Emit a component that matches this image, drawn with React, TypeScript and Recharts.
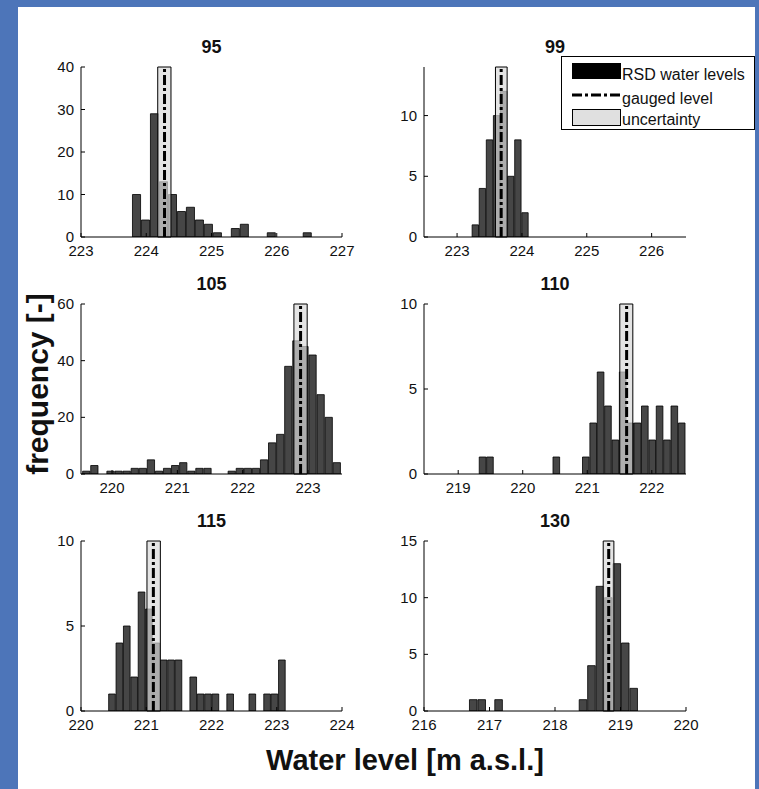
import React from 'react';
import { ComposedChart, Bar, XAxis, YAxis, ReferenceArea, ReferenceLine } from 'recharts';

const FONT = '"Liberation Sans", Arial, Helvetica, sans-serif';

// Panel titles (cross-section ids)
const panelTitles = ['95', '99', '105', '110', '115', '130'];

// Histogram counts (frequency) per panel, one value per bin
const counts95 = [10, 4, 29, 13, 10, 6, 7, 4, 3, 1, 0, 2, 3, 0, 0, 1, 0, 0, 0, 1];
const counts99 = [1, 4, 8, 10, 12, 5, 8, 2];
const counts105 = [1, 3, 0, 1, 1, 1, 2, 2, 5, 1, 2, 3, 4, 1, 2, 2, 0, 0, 1, 2, 2, 2, 5, 11, 14, 38, 47, 45, 42, 28, 20, 4];
const counts110 = [1, 1, 0, 0, 0, 0, 0, 0, 0, 0, 1, 0, 0, 0, 1, 3, 6, 4, 2, 6, 3, 3, 4, 2, 4, 2, 4, 3];
const counts115 = [1, 4, 5, 2, 7, 6, 4, 3, 3, 3, 0, 2, 1, 1, 1, 0, 1, 0, 0, 1, 0, 1, 1, 3];
const counts130 = [1, 1, 0, 1, 0, 0, 0, 0, 0, 0, 0, 0, 0, 1, 4, 11, 10, 13, 6, 2];
const allCounts = [counts95, counts99, counts105, counts110, counts115, counts130];

// Histogram bins: left edge of first bin and bin width [m a.s.l.]
const binStarts = [223.789, 223.232, 219.55, 219.326, 220.424, 216.694];
const binWidths = [0.1377, 0.1094, 0.1237, 0.1143, 0.1132, 0.1289];

// Gauged water level and its uncertainty band [m a.s.l.]
const gaugedLevels = [224.28, 223.68, 222.886, 221.61, 221.109, 218.82];
const bandLows = [224.176, 223.592, 222.784, 221.504, 221.011, 218.736];
const bandHighs = [224.379, 223.772, 222.987, 221.706, 221.216, 218.899];

// Axes
const xDomains: [number, number][] = [
  [223, 227], [222.49, 226.53], [219.525, 223.52], [218.47, 222.53], [220, 224], [216, 220],
];
const xTickValues = [
  [223, 224, 225, 226, 227],
  [223, 224, 225, 226],
  [220, 221, 222, 223],
  [219, 220, 221, 222],
  [220, 221, 222, 223, 224],
  [216, 217, 218, 219, 220],
];
const yMaxes = [40, 14, 60, 10, 10, 15];
const yTickValues = [
  [0, 10, 20, 30, 40],
  [0, 5, 10],
  [0, 20, 40, 60],
  [0, 5, 10],
  [0, 5, 10],
  [0, 5, 10, 15],
];

const legendLabels = ['RSD water levels', 'gauged level', 'uncertainty'];
const xAxisTitle = 'Water level [m a.s.l.]';
const yAxisTitle = 'frequency [-]';

// Layout (plot rectangles in page pixels)
const PLOTS = [
  { L: 81, T: 67, W: 261, H: 170 },
  { L: 424, T: 67, W: 262, H: 170 },
  { L: 81, T: 304, W: 261, H: 170 },
  { L: 424, T: 304, W: 262, H: 170 },
  { L: 81, T: 541, W: 261, H: 170 },
  { L: 424, T: 541, W: 262, H: 170 },
];

const BAR_FILL = '#464646';
const BAND_FILL = '#d8d8d8';
const DASHDOT = '10 3 3 3';
const TICK_FONT = 15;

const BottomTick = (p: any) => {
  const { x, y, payload } = p;
  return (
    <g>
      <line x1={x} y1={y} x2={x} y2={y - 4} stroke="#000" strokeWidth={1} />
      <text x={x} y={y + 19} textAnchor="middle" fontSize={TICK_FONT} fontFamily={FONT} fill="#111">
        {payload.value}
      </text>
    </g>
  );
};
const TopTick = (p: any) => {
  const { x, y } = p;
  return <line x1={x} y1={y} x2={x} y2={y + 4} stroke="#000" strokeWidth={1} />;
};
const LeftTick = (p: any) => {
  const { x, y, payload } = p;
  return (
    <g>
      <line x1={x} y1={y} x2={x + 4} y2={y} stroke="#000" strokeWidth={1} />
      <text x={x - 7} y={y + 5} textAnchor="end" fontSize={TICK_FONT} fontFamily={FONT} fill="#111">
        {payload.value}
      </text>
    </g>
  );
};
const RightTick = (p: any) => {
  const { x, y } = p;
  return <line x1={x} y1={y} x2={x - 4} y2={y} stroke="#000" strokeWidth={1} />;
};

const AXW = 40;
const AXH = 30;
const MT = 12;
const MR = 22;

function Panel({ idx }: { idx: number }) {
  const r = PLOTS[idx];
  const [d0, d1] = xDomains[idx];
  const data = allCounts[idx].map((c, i) => ({
    level: binStarts[idx] + (i + 0.5) * binWidths[idx],
    count: c,
  }));
  const barSize = (binWidths[idx] / (d1 - d0)) * r.W;
  return (
    <div style={{ position: 'absolute', left: r.L - AXW, top: r.T - MT }}>
      <ComposedChart
        width={AXW + r.W + MR}
        height={MT + r.H + AXH}
        data={data}
        margin={{ top: MT, right: MR, bottom: 0, left: 0 }}
        barCategoryGap={0}
        barGap={0}
      >
        <XAxis
          dataKey="level"
          type="number"
          domain={xDomains[idx]}
          ticks={xTickValues[idx]}
          allowDataOverflow
          interval={0}
          height={AXH}
          tickLine={false}
          tickSize={0}
          tickMargin={0}
          tick={(p: any) => <BottomTick {...p} />}
          axisLine={{ stroke: '#000' }}
        />
        <XAxis
          xAxisId="top"
          orientation="top"
          type="number"
          domain={xDomains[idx]}
          ticks={xTickValues[idx]}
          allowDataOverflow
          interval={0}
          height={0}
          tickLine={false}
          tickSize={0}
          tickMargin={0}
          tick={(p: any) => <TopTick {...p} />}
          axisLine={{ stroke: '#000' }}
        />
        <YAxis
          type="number"
          domain={[0, yMaxes[idx]]}
          ticks={yTickValues[idx]}
          allowDataOverflow
          interval={0}
          width={AXW}
          tickLine={false}
          tickSize={0}
          tickMargin={0}
          tick={(p: any) => <LeftTick {...p} />}
          axisLine={{ stroke: '#000' }}
        />
        <YAxis
          yAxisId="right"
          orientation="right"
          type="number"
          domain={[0, yMaxes[idx]]}
          ticks={yTickValues[idx]}
          allowDataOverflow
          interval={0}
          width={0}
          tickLine={false}
          tickSize={0}
          tickMargin={0}
          tick={(p: any) => <RightTick {...p} />}
          axisLine={{ stroke: '#000' }}
        />
        <Bar
          dataKey="count"
          fill={BAR_FILL}
          stroke="#000"
          strokeWidth={0.8}
          barSize={barSize}
          isAnimationActive={false}
        />
        <ReferenceArea
          x1={bandLows[idx]}
          x2={bandHighs[idx]}
          fill={BAND_FILL}
          fillOpacity={0.7}
          stroke="#000"
          strokeWidth={1}
          zIndex={350}
        />
        <ReferenceLine
          x={gaugedLevels[idx]}
          stroke="#000"
          strokeWidth={3}
          strokeDasharray={DASHDOT}
          zIndex={400}
        />
      </ComposedChart>
    </div>
  );
}

function LegendBox() {
  return (
    <svg
      width={195}
      height={75}
      style={{ position: 'absolute', left: 561, top: 56, overflow: 'visible' }}
    >
      <rect x={0.5} y={0.5} width={193} height={73} fill="#fff" stroke="#000" strokeWidth={1} />
      <rect x={11} y={7} width={49} height={16} fill="#000" />
      <text x={61} y={24} fontSize={16} fontFamily={FONT} fill="#111">{legendLabels[0]}</text>
      <line x1={11} y1={39} x2={60} y2={39} stroke="#000" strokeWidth={3} strokeDasharray={DASHDOT} />
      <text x={61} y={48} fontSize={16} fontFamily={FONT} fill="#111">{legendLabels[1]}</text>
      <rect x={11.5} y={53.5} width={48} height={16} fill="#e0e0e0" stroke="#000" strokeWidth={1} />
      <text x={61} y={69} fontSize={16} fontFamily={FONT} fill="#111">{legendLabels[2]}</text>
    </svg>
  );
}

export default function App() {
  return (
    <div
      style={{
        position: 'absolute',
        left: 0,
        top: 0,
        width: 759,
        height: 789,
        background: '#4d75b9',
        overflow: 'hidden',
        fontFamily: FONT,
      }}
    >
      <div style={{ position: 'absolute', left: 18, top: 7, width: 737, height: 782, background: '#fff' }} />
      {PLOTS.map((r, i) => (
        <div
          key={'t' + i}
          style={{
            position: 'absolute',
            left: r.L,
            width: r.W,
            top: r.T - 31,
            height: 22,
            lineHeight: '22px',
            textAlign: 'center',
            fontSize: 18,
            fontWeight: 'bold',
            color: '#111',
          }}
        >
          {panelTitles[i]}
        </div>
      ))}
      {PLOTS.map((_, i) => (
        <Panel key={'p' + i} idx={i} />
      ))}
      <LegendBox />
      <svg width={759} height={789} style={{ position: 'absolute', left: 0, top: 0, pointerEvents: 'none' }}>
        <text
          x={37}
          y={384}
          transform="rotate(-90 37 384)"
          textAnchor="middle"
          dominantBaseline="central"
          fontSize={30}
          fontWeight="bold"
          fontFamily={FONT}
          fill="#111"
        >
          {yAxisTitle}
        </text>
        <text
          x={405}
          y={760}
          textAnchor="middle"
          dominantBaseline="central"
          fontSize={29}
          fontWeight="bold"
          fontFamily={FONT}
          fill="#111"
        >
          {xAxisTitle}
        </text>
      </svg>
    </div>
  );
}
